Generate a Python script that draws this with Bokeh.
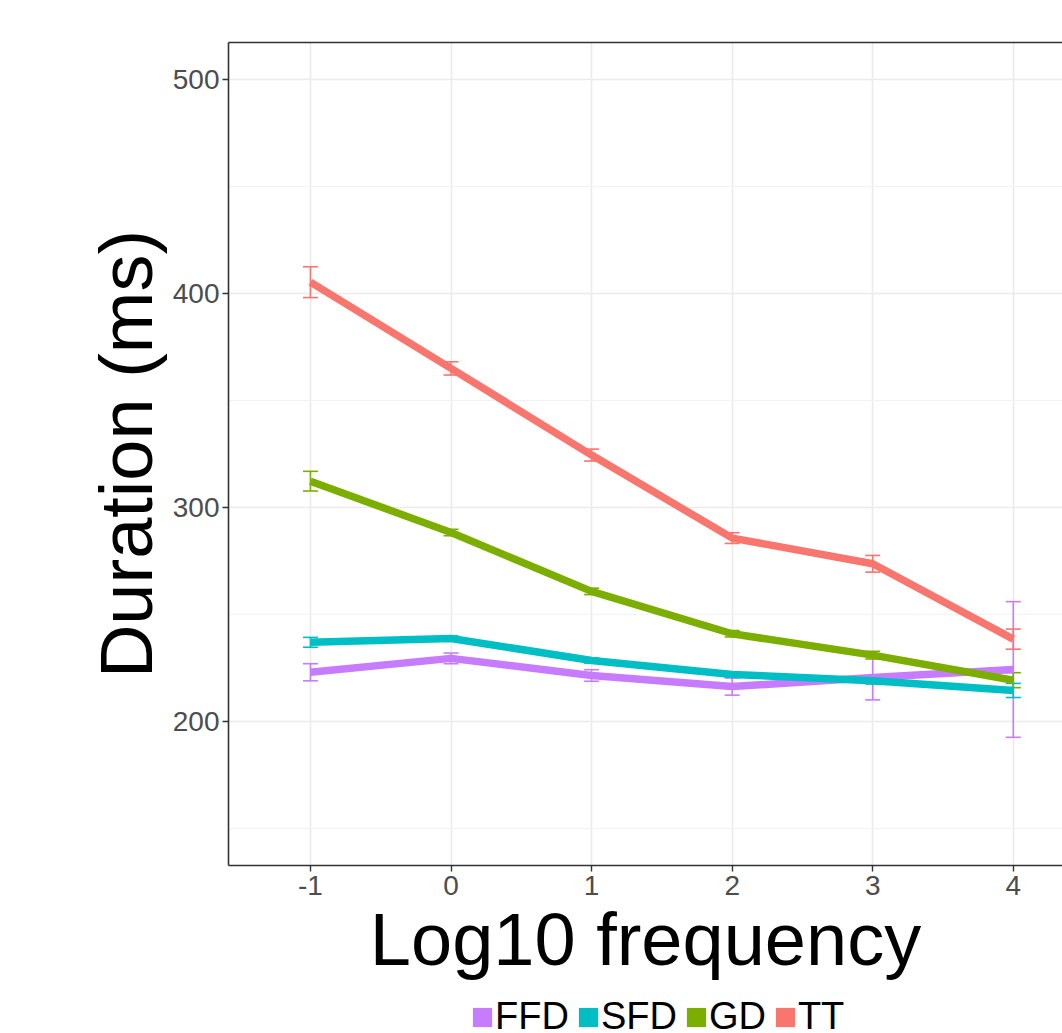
from bokeh.plotting import figure
from bokeh.models import (ColumnDataSource, Whisker, TeeHead, LinearAxis, FixedTicker,
                          Legend, LegendItem, Range1d)
from bokeh.layouts import column
from bokeh.embed import file_html
from bokeh.resources import INLINE

# ---- data ----
log_freq = [-1, 0, 1, 2, 3, 4]
series_names = ["FFD", "SFD", "GD", "TT"]
ffd = [223.0, 229.5, 221.5, 216.3, 220.6, 224.3]
ffd_err = [4.0, 2.5, 2.7, 4.0, 10.5, 31.7]
sfd = [237.0, 238.8, 228.5, 222.0, 219.0, 214.5]
sfd_err = [2.3, 1.2, 1.2, 1.2, 1.5, 3.3]
gd = [312.3, 288.3, 260.8, 241.0, 231.0, 219.3]
gd_err = [4.6, 1.5, 1.5, 1.5, 1.8, 3.5]
tt = [405.3, 365.0, 324.5, 285.7, 273.7, 238.5]
tt_err = [7.2, 3.1, 2.8, 2.5, 3.9, 4.7]
colors = ["#C77CFF", "#00BFC4", "#7CAE00", "#F8766D"]
x_ticks = [-1, 0, 1, 2, 3, 4]
x_tick_labels = {-1: "-1", 0: "0", 1: "1", 2: "2", 3: "3", 4: "4"}
y_ticks = [200, 300, 400, 500]
y_minor = [150, 250, 350, 450]

values = [ffd, sfd, gd, tt]
errors = [ffd_err, sfd_err, gd_err, tt_err]

p = figure(frame_width=834, frame_height=823, output_backend="svg", toolbar_location=None,
           x_range=Range1d(-1.583, 4.35), y_range=Range1d(132.7, 517.3),
           min_border_left=228, min_border_right=0, min_border_top=42,
           min_border_bottom=135)
p.outline_line_color = None
p.background_fill_color = "white"
p.border_fill_color = "white"

# grid
p.xaxis.ticker = FixedTicker(ticks=x_ticks)
p.xaxis.major_label_overrides = x_tick_labels
p.yaxis.ticker = FixedTicker(ticks=y_ticks, minor_ticks=y_minor)
p.xgrid.grid_line_color = "#EBEBEB"
p.xgrid.grid_line_width = 1.6
p.ygrid.grid_line_color = "#EBEBEB"
p.ygrid.grid_line_width = 1.6
p.ygrid.minor_grid_line_color = "#F2F2F2"
p.ygrid.minor_grid_line_width = 1.2

for ax in (p.xaxis[0], p.yaxis[0]):
    ax.axis_line_color = "#333333"
    ax.axis_line_width = 1.6
    ax.major_tick_line_color = "#333333"
    ax.major_tick_line_width = 1.4
    ax.major_tick_out = 6
    ax.major_tick_in = 0
    ax.minor_tick_line_color = None
    ax.major_label_text_font = "Liberation Sans"
    ax.major_label_text_font_size = "28px"
    ax.major_label_text_color = "#4D4D4D"
    ax.axis_label_text_font = "Liberation Sans"
    ax.axis_label_text_font_size = "74px"
    ax.axis_label_text_font_style = "normal"
    ax.axis_label_text_color = "black"

p.xaxis.axis_label = "Log10 frequency"
p.yaxis.axis_label = "Duration (ms)"
p.xaxis.major_label_standoff = 4
p.yaxis.major_label_standoff = 3
p.xaxis.axis_label_standoff = 0
p.yaxis.axis_label_standoff = 2

top_axis = LinearAxis(ticker=FixedTicker(ticks=[]), axis_line_color="#333333",
                      axis_line_width=1.6, major_tick_line_color=None,
                      minor_tick_line_color=None, major_label_text_font_size="0px")
p.add_layout(top_axis, "above")

# lines
for vals, col in zip(values, colors):
    p.line(log_freq, vals, line_color=col, line_width=7.5)

# error bars
for vals, errs, col in zip(values, errors, colors):
    src = ColumnDataSource(dict(x=log_freq,
                                lo=[v - e for v, e in zip(vals, errs)],
                                hi=[v + e for v, e in zip(vals, errs)]))
    w = Whisker(base="x", lower="lo", upper="hi", source=src,
                line_color=col, line_width=1.6,
                upper_head=TeeHead(size=15, line_color=col, line_width=1.6),
                lower_head=TeeHead(size=15, line_color=col, line_width=1.6))
    p.add_layout(w)

# ---- legend strip below the chart (same left border as the chart) ----
lg = figure(frame_width=834, height=40, output_backend="svg", toolbar_location=None,
            x_range=Range1d(0, 1), y_range=Range1d(0, 1),
            min_border_left=228, min_border_right=0, min_border_top=0,
            min_border_bottom=0)
lg.axis.visible = False
lg.grid.visible = False
lg.outline_line_color = None
lg.background_fill_color = "white"
lg.border_fill_color = "white"

nan = float("nan")
items = []
for name, col in zip(series_names, colors):
    r = lg.quad(left=[nan], right=[nan], top=[nan], bottom=[nan],
                fill_color=col, line_color=None)
    items.append(LegendItem(label=name, renderers=[r]))
legend = Legend(items=items, orientation="horizontal", location=(242, 2),
                label_text_font="Liberation Sans", label_text_font_size="38px",
                label_text_color="black", glyph_width=24, glyph_height=24,
                label_height=24, label_standoff=1, spacing=7, padding=0, margin=0,
                border_line_color=None, background_fill_alpha=0)
lg.add_layout(legend, "center")

layout = column(p, lg, spacing=0)
open("out.html", "w").write(file_html(layout, INLINE))
